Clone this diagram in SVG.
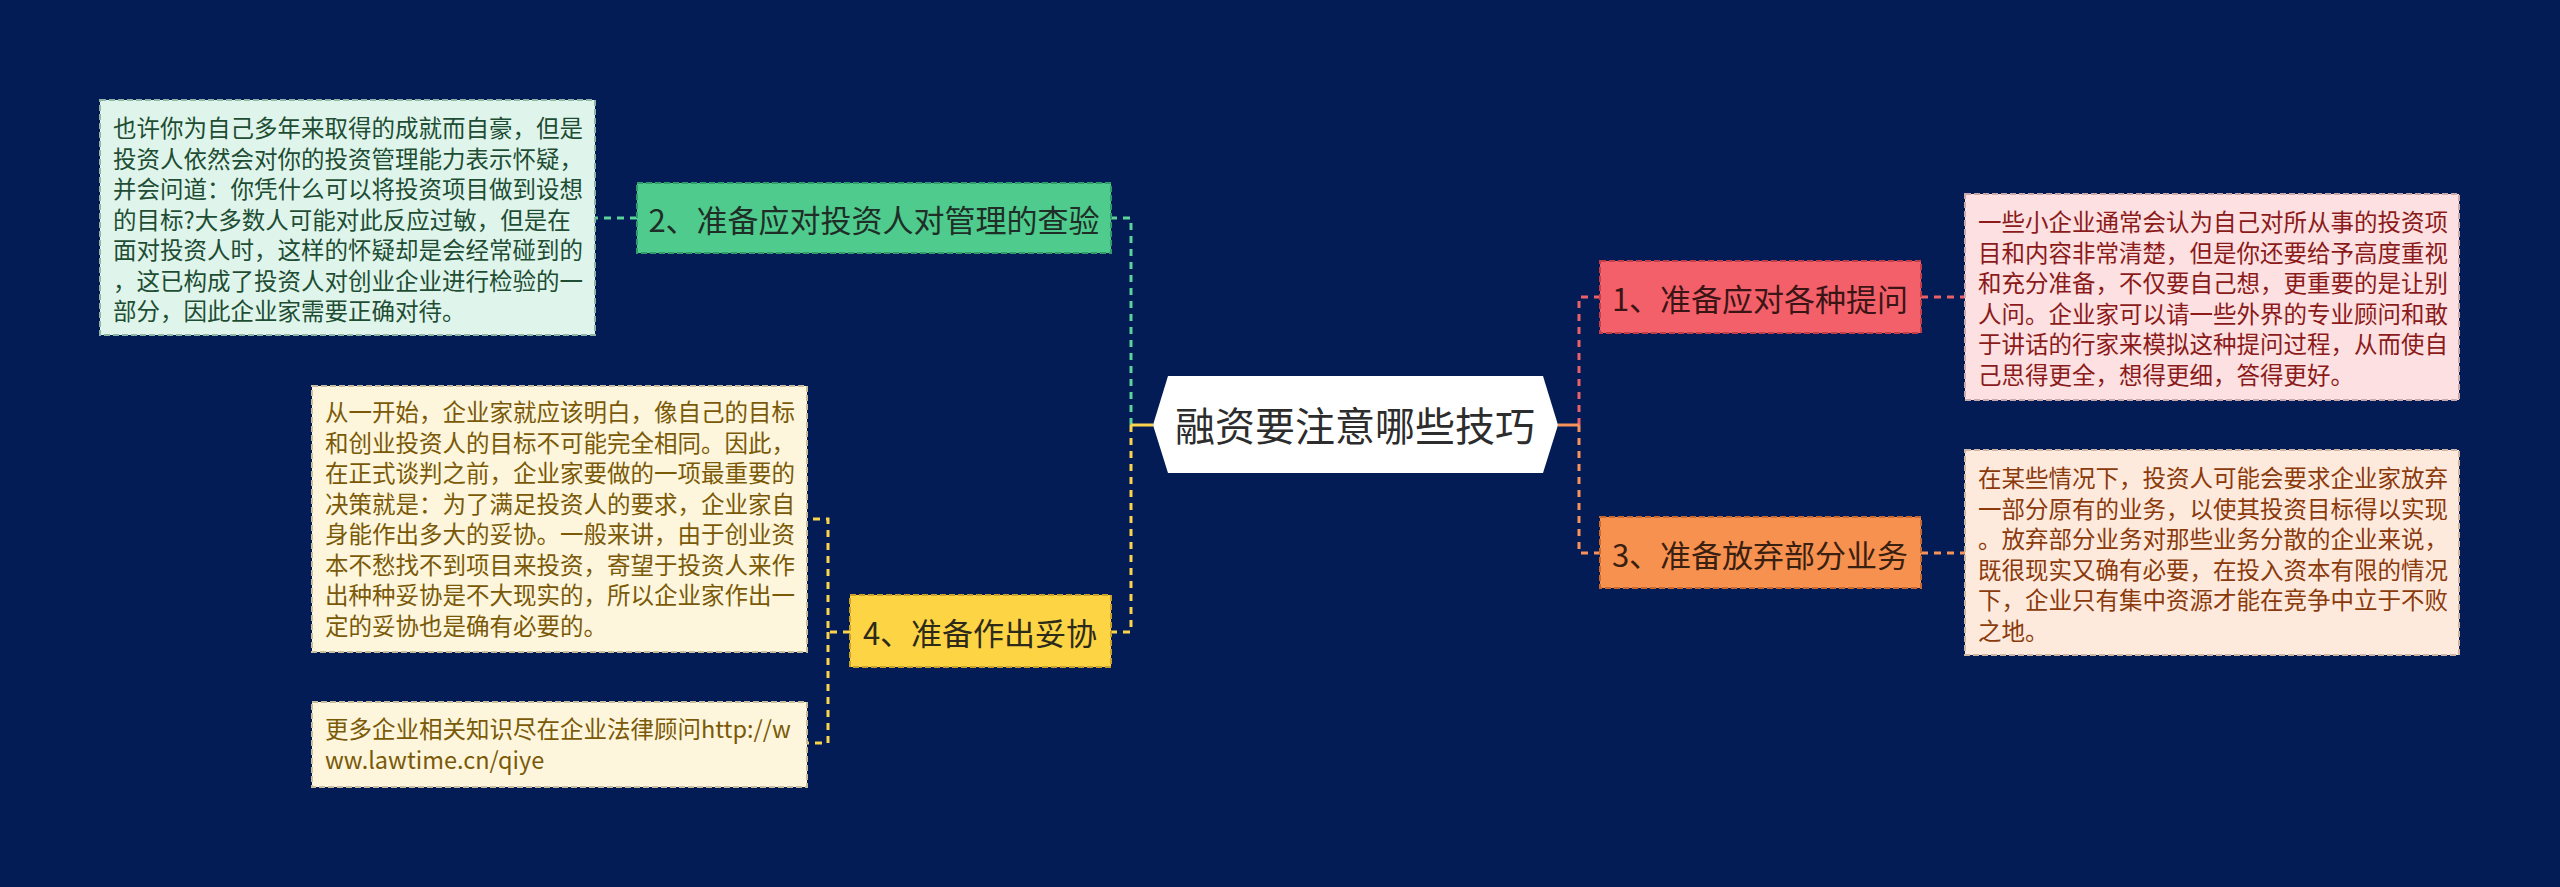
<svg xmlns="http://www.w3.org/2000/svg" width="2560" height="887" viewBox="0 0 2560 887">
<style>
.bg{fill:#041c55}
.conn{fill:none;stroke-width:3;stroke-dasharray:7 6}
.stub{fill:none;stroke-width:3}
.node text{font-family:"Noto Sans CJK SC","Liberation Sans",sans-serif;font-size:31px;text-anchor:middle;dominant-baseline:central}
.detail text{font-family:"Noto Sans CJK SC","Liberation Sans",sans-serif;font-size:23.5px}
.box{stroke-width:2;stroke-dasharray:6 3}
</style>
<rect class="bg" x="0" y="0" width="2560" height="887"/>
<g id="connectors">
<path class="conn" stroke="#5bd39b" d="M1131,425 V218 H1111"/>
<path class="conn" stroke="#5bd39b" d="M637,218 H595"/>
<path class="conn" stroke="#fcd44c" d="M1131,425 V632 H1111"/>
<path class="stub" stroke="#fcd44c" d="M1131,425 H1153"/>
<path class="conn" stroke="#fcd44c" d="M850,632 H828 V519 H807"/>
<path class="conn" stroke="#fcd44c" d="M828,632 V743 H807"/>
<path class="conn" stroke="#ea6168" d="M1579,425 V297 H1600"/>
<path class="conn" stroke="#ea6168" d="M1921,297 H1965"/>
<path class="conn" stroke="#f7935a" d="M1579,425 V553 H1600"/>
<path class="conn" stroke="#f7935a" d="M1921,553 H1965"/>
<path class="stub" stroke="#f7935a" d="M1558,425 H1579"/>
</g>
<g id="center" class="node">
<polygon points="1153,425 1168,376 1543,376 1558,425 1543,473 1168,473" fill="#ffffff"/>
<text x="1355" y="424" fill="#2d2d2d" style="font-size:40px">融资要注意哪些技巧</text>
</g>
<g id="node2" class="node">
<rect class="box" x="637" y="183" width="474" height="70" fill="#4ecb8d" stroke="#2f9d6a"/>
<text x="874" y="218" fill="#1f2e26">2、准备应对投资人对管理的查验</text>
</g>
<g id="node2-detail" class="detail">
<rect class="box" x="100" y="100" width="495" height="235" fill="#dff5eb" stroke="#8fb5a5"/>
<text x="113" y="137" fill="#1e4d34">
<tspan x="113" y="137">也许你为自己多年来取得的成就而自豪，但是</tspan>
<tspan x="113" y="167.5">投资人依然会对你的投资管理能力表示怀疑，</tspan>
<tspan x="113" y="198">并会问道：你凭什么可以将投资项目做到设想</tspan>
<tspan x="113" y="228.5">的目标?大多数人可能对此反应过敏，但是在</tspan>
<tspan x="113" y="259">面对投资人时，这样的怀疑却是会经常碰到的</tspan>
<tspan x="113" y="289.5">，这已构成了投资人对创业企业进行检验的一</tspan>
<tspan x="113" y="320">部分，因此企业家需要正确对待。</tspan>
</text>
</g>
<g id="node4" class="node">
<rect class="box" x="850" y="595" width="261" height="72" fill="#fdd444" stroke="#c9a22a"/>
<text x="980" y="631" fill="#2e2a1a">4、准备作出妥协</text>
</g>
<g id="node4-detail" class="detail">
<rect class="box" x="312" y="386" width="495" height="266" fill="#fef6dc" stroke="#c8bd9c"/>
<text fill="#7a5a08">
<tspan x="325" y="421">从一开始，企业家就应该明白，像自己的目标</tspan>
<tspan x="325" y="451.5">和创业投资人的目标不可能完全相同。因此，</tspan>
<tspan x="325" y="482">在正式谈判之前，企业家要做的一项最重要的</tspan>
<tspan x="325" y="512.5">决策就是：为了满足投资人的要求，企业家自</tspan>
<tspan x="325" y="543">身能作出多大的妥协。一般来讲，由于创业资</tspan>
<tspan x="325" y="573.5">本不愁找不到项目来投资，寄望于投资人来作</tspan>
<tspan x="325" y="604">出种种妥协是不大现实的，所以企业家作出一</tspan>
<tspan x="325" y="634.5">定的妥协也是确有必要的。</tspan>
</text>
</g>
<g id="node4-link" class="detail">
<rect class="box" x="312" y="702" width="495" height="85" fill="#fef6dc" stroke="#c8bd9c"/>
<text fill="#7a5a08">
<tspan x="325" y="738">更多企业相关知识尽在企业法律顾问http://w</tspan>
<tspan x="325" y="768.5">ww.lawtime.cn/qiye</tspan>
</text>
</g>
<g id="node1" class="node">
<rect class="box" x="1600" y="261" width="321" height="72" fill="#f4606a" stroke="#c23e47"/>
<text x="1760" y="297" fill="#3b1515">1、准备应对各种提问</text>
</g>
<g id="node1-detail" class="detail">
<rect class="box" x="1965" y="194" width="494" height="206" fill="#fde0e1" stroke="#c9a9ab"/>
<text fill="#8b1a1a">
<tspan x="1978" y="231">一些小企业通常会认为自己对所从事的投资项</tspan>
<tspan x="1978" y="261.5">目和内容非常清楚，但是你还要给予高度重视</tspan>
<tspan x="1978" y="292">和充分准备，不仅要自己想，更重要的是让别</tspan>
<tspan x="1978" y="322.5">人问。企业家可以请一些外界的专业顾问和敢</tspan>
<tspan x="1978" y="353">于讲话的行家来模拟这种提问过程，从而使自</tspan>
<tspan x="1978" y="383.5">己思得更全，想得更细，答得更好。</tspan>
</text>
</g>
<g id="node3" class="node">
<rect class="box" x="1600" y="517" width="321" height="71" fill="#f7914f" stroke="#c86a30"/>
<text x="1760" y="553" fill="#3a2010">3、准备放弃部分业务</text>
</g>
<g id="node3-detail" class="detail">
<rect class="box" x="1965" y="450" width="494" height="205" fill="#feeadd" stroke="#cdb4a3"/>
<text fill="#8b3a0c">
<tspan x="1978" y="487">在某些情况下，投资人可能会要求企业家放弃</tspan>
<tspan x="1978" y="517.5">一部分原有的业务，以使其投资目标得以实现</tspan>
<tspan x="1978" y="548">。放弃部分业务对那些业务分散的企业来说，</tspan>
<tspan x="1978" y="578.5">既很现实又确有必要，在投入资本有限的情况</tspan>
<tspan x="1978" y="609">下，企业只有集中资源才能在竞争中立于不败</tspan>
<tspan x="1978" y="639.5">之地。</tspan>
</text>
</g>
</svg>
